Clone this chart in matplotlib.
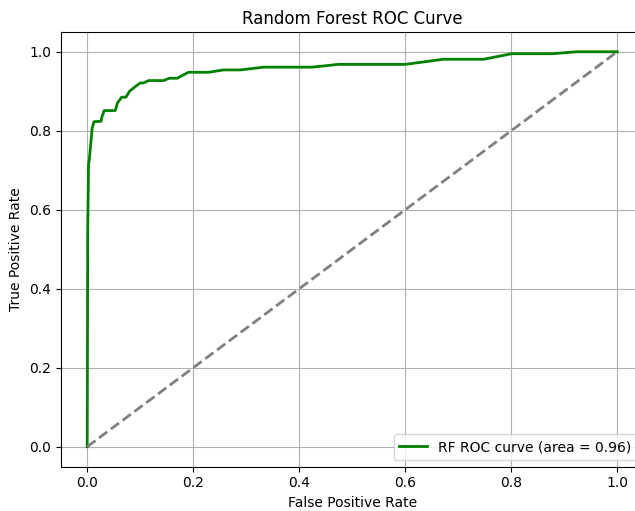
import matplotlib
matplotlib.use('Agg')
import matplotlib.pyplot as plt

# ROC points
fpr = [0.0, 0.001, 0.0025, 0.004, 0.0094, 0.013, 0.026, 0.028, 0.032, 0.053,
       0.057, 0.065, 0.073, 0.080, 0.090, 0.100, 0.106, 0.116, 0.144, 0.155,
       0.170, 0.191, 0.229, 0.257, 0.289, 0.333, 0.424, 0.474, 0.600, 0.672,
       0.748, 0.801, 0.877, 0.924, 1.0]
tpr = [0.0, 0.55, 0.714, 0.727, 0.807, 0.823, 0.824, 0.836, 0.851, 0.851,
       0.870, 0.885, 0.885, 0.900, 0.911, 0.921, 0.921, 0.927, 0.927, 0.933,
       0.933, 0.948, 0.948, 0.954, 0.954, 0.961, 0.961, 0.968, 0.968, 0.981,
       0.981, 0.995, 0.995, 1.0, 1.0]
roc_auc = 0.96

fig = plt.figure(figsize=(6.35, 5.11), dpi=100)
ax = fig.add_axes([60.7 / 635, 44.5 / 511, 583 / 635, 434.5 / 511])

ax.plot(fpr, tpr, color='green', lw=2, label='RF ROC curve (area = %0.2f)' % roc_auc)
ax.plot([0, 1], [0, 1], color='gray', lw=2, linestyle='--')
ax.set_xlabel('False Positive Rate')
ax.set_ylabel('True Positive Rate')
ax.set_title('Random Forest ROC Curve')
ax.legend(loc='lower right')
ax.grid(True)

fig.savefig('out.png', dpi=100)
